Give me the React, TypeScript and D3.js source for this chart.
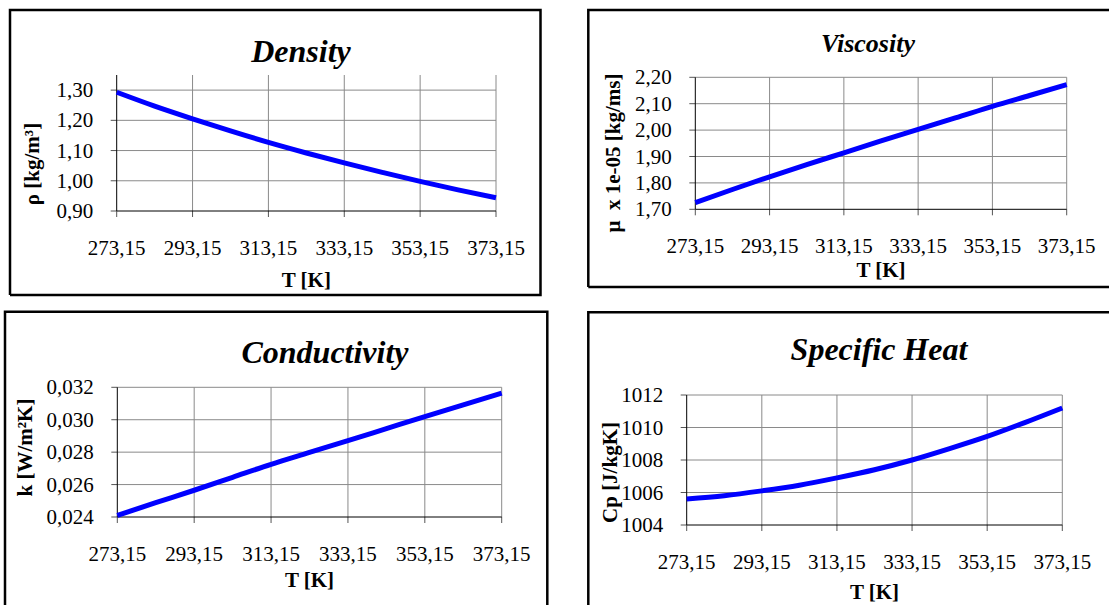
import React from "react";
import * as d3 from "d3";

const temps = [273.15, 283.15, 293.15, 303.15, 313.15, 323.15, 333.15, 343.15, 353.15, 363.15, 373.15];
const xTicks = [273.15, 293.15, 313.15, 333.15, 353.15, 373.15];

const density = [1.293, 1.247, 1.205, 1.165, 1.127, 1.092, 1.059, 1.028, 0.998, 0.970, 0.944];
const densityTicks = [0.9, 1.0, 1.1, 1.2, 1.3];

const viscosity = [1.725, 1.775, 1.823, 1.869, 1.914, 1.959, 2.003, 2.046, 2.09, 2.131, 2.172];
const viscosityTicks = [1.7, 1.8, 1.9, 2.0, 2.1, 2.2];

const conductivity = [0.0241, 0.02488, 0.02565, 0.02645, 0.02725, 0.02798, 0.02871, 0.02945, 0.03019, 0.03092, 0.03164];
const conductivityTicks = [0.024, 0.026, 0.028, 0.03, 0.032];

const specificHeat = [1005.6, 1005.8, 1006.1, 1006.45, 1006.9, 1007.4, 1008.0, 1008.7, 1009.45, 1010.3, 1011.2];
const specificHeatTicks = [1004, 1006, 1008, 1010, 1012];

const FONT = "'Liberation Serif', 'Times New Roman', Times, serif";
const fmt = (v: number, d: number) => v.toFixed(d).replace(".", ",");

type PanelProps = {
  frame: { x0: number; y0: number; x1: number; y1: number; right: boolean; bottom: boolean };
  plot: { left: number; right: number; top: number; bottom: number };
  yDomain: [number, number];
  values: number[];
  yTicks: number[];
  decimals: number;
  title: string;
  titleSize: number;
  titleX: number;
  titleY: number;
  yTitle: string;
  yTitleX: number;
  yTitleY: number;
  xTitleY: number;
};

function Panel(p: PanelProps) {
  const x = d3.scaleLinear().domain([273.15, 373.15]).range([p.plot.left, p.plot.right]);
  const y = d3.scaleLinear().domain(p.yDomain).range([p.plot.bottom, p.plot.top]);
  const line = d3
    .line<number>()
    .x((_, i) => x(temps[i]))
    .y((d) => y(d))
    .curve(d3.curveMonotoneX);
  const f = p.frame;
  let framePath = `M${f.x0},${f.bottom ? f.y1 : f.y1 + 20} L${f.x0},${f.y0} L${f.right ? f.x1 : f.x1 + 20},${f.y0}`;
  if (f.right) framePath += ` L${f.x1},${f.y1}`;
  if (f.bottom) framePath += f.right ? ` L${f.x0},${f.y1}` : ` M${f.x1 + 20},${f.y1} L${f.x0},${f.y1}`;
  const xMid = (p.plot.left + p.plot.right) / 2;
  return (
    <g>
      <path d={framePath} fill="none" stroke="#000" strokeWidth={2.5} />
      {p.yTicks.slice(1).map((t) => (
        <line key={"h" + t} x1={p.plot.left} x2={p.plot.right} y1={y(t)} y2={y(t)} stroke="#8a8a8a" strokeWidth={1} />
      ))}
      {xTicks.slice(1).map((t) => (
        <line key={"v" + t} x1={x(t)} x2={x(t)} y1={p.plot.top} y2={p.plot.bottom} stroke="#8a8a8a" strokeWidth={1} />
      ))}
      {p.yTicks.map((t) => (
        <line key={"yt" + t} x1={p.plot.left - 6} x2={p.plot.left} y1={y(t)} y2={y(t)} stroke="#555" strokeWidth={1} />
      ))}
      {xTicks.map((t) => (
        <line key={"xt" + t} x1={x(t)} x2={x(t)} y1={p.plot.bottom} y2={p.plot.bottom + 6} stroke="#555" strokeWidth={1} />
      ))}
      <line x1={p.plot.left} x2={p.plot.left} y1={p.plot.top} y2={p.plot.bottom} stroke="#000" strokeWidth={1} />
      <line x1={p.plot.left} x2={p.plot.right} y1={p.plot.bottom} y2={p.plot.bottom} stroke="#000" strokeWidth={1} />
      <path d={line(p.values) || ""} fill="none" stroke="#0000ff" strokeWidth={5} />
      {p.yTicks.map((t) => (
        <text key={"yl" + t} x={p.plot.left - 23.5} y={y(t)} textAnchor="end" dominantBaseline="central" fontSize={21} fontFamily={FONT} fill="#000">
          {fmt(t, p.decimals)}
        </text>
      ))}
      {xTicks.map((t) => (
        <text key={"xl" + t} x={x(t)} y={p.plot.bottom + 36.5} textAnchor="middle" dominantBaseline="central" fontSize={21} fontFamily={FONT} fill="#000">
          {fmt(t, 2)}
        </text>
      ))}
      <text x={p.titleX} y={p.titleY} textAnchor="middle" fontSize={p.titleSize} fontWeight="bold" fontStyle="italic" fontFamily={FONT} fill="#000">
        {p.title}
      </text>
      <text x={xMid} y={p.xTitleY} textAnchor="middle" fontSize={21} fontWeight="bold" fontFamily={FONT} fill="#000">
        T [K]
      </text>
      <text
        transform={`translate(${p.yTitleX},${p.yTitleY}) rotate(-90)`}
        textAnchor="middle"
        dominantBaseline="central"
        fontSize={21}
        fontWeight="bold"
        fontFamily={FONT}
        fill="#000"
        style={{ whiteSpace: "pre" }}
      >
        {p.yTitle}
      </text>
    </g>
  );
}

export default function App() {
  return (
    <svg width={1109} height={605} style={{ position: "absolute", left: 0, top: 0, background: "#fff" }}>
      <rect x={0} y={0} width={1109} height={605} fill="#fff" />
      <Panel
        frame={{ x0: 10, y0: 10, x1: 540.5, y1: 295, right: true, bottom: true }}
        plot={{ left: 116.7, right: 496, top: 75, bottom: 211 }}
        yDomain={[0.9, 1.35]}
        values={density}
        yTicks={densityTicks}
        decimals={2}
        title="Density"
        titleSize={32}
        titleX={301}
        titleY={62}
        yTitle="ρ [kg/m³]"
        yTitleX={31.7}
        yTitleY={164}
        xTitleY={287}
      />
      <Panel
        frame={{ x0: 588.3, y0: 10, x1: 1109, y1: 287, right: false, bottom: true }}
        plot={{ left: 695.3, right: 1066.7, top: 77.3, bottom: 209.3 }}
        yDomain={[1.7, 2.2]}
        values={viscosity}
        yTicks={viscosityTicks}
        decimals={2}
        title="Viscosity"
        titleSize={26}
        titleX={868}
        titleY={52}
        yTitle="μ  x 1e-05 [kg/ms]"
        yTitleX={613}
        yTitleY={153}
        xTitleY={277}
      />
      <Panel
        frame={{ x0: 5, y0: 311.7, x1: 547.3, y1: 605, right: true, bottom: false }}
        plot={{ left: 117.3, right: 501.7, top: 387.3, bottom: 517 }}
        yDomain={[0.024, 0.032]}
        values={conductivity}
        yTicks={conductivityTicks}
        decimals={3}
        title="Conductivity"
        titleSize={32}
        titleX={325}
        titleY={363}
        yTitle="k [W/m²K]"
        yTitleX={25}
        yTitleY={447.5}
        xTitleY={587}
      />
      <Panel
        frame={{ x0: 588.3, y0: 312.3, x1: 1109, y1: 605, right: false, bottom: false }}
        plot={{ left: 686.7, right: 1062.3, top: 395, bottom: 525 }}
        yDomain={[1004, 1012]}
        values={specificHeat}
        yTicks={specificHeatTicks}
        decimals={0}
        title="Specific Heat"
        titleSize={32}
        titleX={879}
        titleY={360}
        yTitle="Cp [J/kgK]"
        yTitleX={610}
        yTitleY={472.5}
        xTitleY={599}
      />
    </svg>
  );
}
